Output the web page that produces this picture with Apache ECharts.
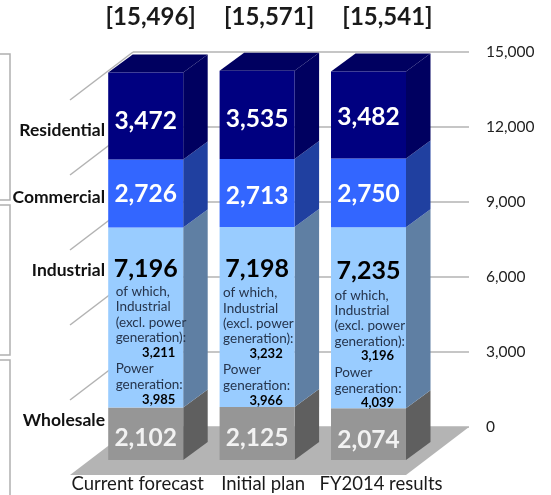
<!DOCTYPE html>
<html>
<head>
<meta charset="utf-8">
<style>html,body{margin:0;padding:0;background:#fff}#chart{width:551px;height:495px}</style>
<script src="https://cdn.jsdelivr.net/npm/echarts@6/dist/echarts.min.js"></script>
</head>
<body>
<div id="chart"></div>
<script>
// Electricity sales by customer segment
const categories = ['Current forecast', 'Initial plan', 'FY2014 results'];
const totals = ['[15,496]', '[15,571]', '[15,541]'];
const wholesale = [2102, 2125, 2074];
const industrial = [7196, 7198, 7235];
const commercial = [2726, 2713, 2750];
const residential = [3472, 3535, 3482];
const industrialExclPower = [3211, 3232, 3196];
const powerGeneration = [3985, 3966, 4039];
const wallTicks = [3000, 6000, 9000, 12000, 15000];

const fmt = v => v.toLocaleString('en-US');
const FONT = 'Lato, "Open Sans", sans-serif';

// Pseudo-3D depth of the columns and of the floor, in pixels
const BAR_DX = 24.5, BAR_DY = -18, FLOOR_DX = 63, FLOOR_DY = -48;
const BAR_WIDTH = 75;

const segments = [
  { name: 'Wholesale', values: wholesale, front: '#969696', side: '#5f5f5f', labelColor: '#f2f2f2', nudge: [4, 5, 6] },
  { name: 'Industrial', values: industrial, front: '#99ccff', side: '#5f7fa3', labelColor: '#000', nudge: [0, 0, 0] },
  { name: 'Commercial', values: commercial, front: '#3366ff', side: '#2040a0', labelColor: '#fff', nudge: [1, 3, 1] },
  { name: 'Residential', values: residential, front: '#000080', side: '#000060', labelColor: '#fff', nudge: [5, 4, 2] }
];

// Cumulative spans of each column: [category, base, top, colour index]
const spans = [];
categories.forEach((c, i) => {
  let base = 0;
  segments.forEach((s, k) => {
    spans.push([i, base, base + s.values[i], k]);
    base += s.values[i];
  });
});

// Text placement relative to each column's centre
const topLabelDx = [5, 12, 19];
const axisNameDx = [-8, 6, 12.5];
const noteLeftDx = [-30, -34, -34];
const noteTopDy = [64, 66, 68];
const bigLabelDy = [24, 25, 26];
const sideNames = [
  { text: 'Residential', y: 130 },
  { text: 'Commercial', y: 197 },
  { text: 'Industrial', y: 270 },
  { text: 'Wholesale', y: 420 }
];

const textEl = (x, y, text, size, color, weight, align) => ({
  type: 'text', z2: 50,
  style: { x, y, text, fill: color, font: `${weight || 400} ${size}px ${FONT}`, align: align || 'left', verticalAlign: 'middle' }
});

function renderDepth(params, api) {
  const p1 = api.coord([api.value(0), api.value(2)]);
  const p0 = api.coord([api.value(0), api.value(1)]);
  const k = api.value(3);
  const right = p0[0] + BAR_WIDTH / 2, left = p0[0] - BAR_WIDTH / 2;
  const children = [{
    type: 'polygon',
    shape: { points: [[right, p0[1]], [right, p1[1]], [right + BAR_DX, p1[1] + BAR_DY], [right + BAR_DX, p0[1] + BAR_DY]] },
    style: { fill: segments[k].side }
  }];
  if (k === segments.length - 1) {
    children.push({
      type: 'polygon',
      shape: { points: [[left, p1[1]], [right, p1[1]], [right + BAR_DX, p1[1] + BAR_DY], [left + BAR_DX, p1[1] + BAR_DY]] },
      style: { fill: '#000060' }
    });
  }
  return { type: 'group', children };
}

function renderAnnotations(params, api) {
  const i = api.value(0);
  const base = api.coord([i, 0]);
  const cx = base[0];
  const indTop = api.coord([i, wholesale[i] + industrial[i]])[1];
  const children = [
    textEl(cx + topLabelDx[i], 17, totals[i], 24, '#1a1a1a', 700, 'center'),
    textEl(cx + axisNameDx[i], 484, categories[i], 18.5, '#1a1a1a', 400, 'center')
  ];
  const y0 = indTop + noteTopDy[i];
  const x = cx + noteLeftDx[i];
  const noteColor = '#26354d';
  ['of which,', 'Industrial', '(excl. power', 'generation):'].forEach((t, n) => {
    children.push(textEl(x, y0 + n * 15.4, t, 13.5, noteColor));
  });
  children.push(textEl(x + 43, y0 + 61, fmt(industrialExclPower[i]), 13, '#000', 700, 'center'));
  children.push(textEl(x, y0 + 77, 'Power', 13.5, noteColor));
  children.push(textEl(x, y0 + 93, 'generation:', 13.5, noteColor));
  children.push(textEl(x + 43, y0 + 108, fmt(powerGeneration[i]), 13, '#000', 700, 'center'));
  return { type: 'group', children };
}

function renderLeadIn(params, api) {
  const p = api.coord([0, api.value(0)]);
  return {
    type: 'polyline',
    shape: { points: [[p[0], p[1]], [p[0] - FLOOR_DX, p[1] - FLOOR_DY]] },
    style: { stroke: '#b3b3b3', lineWidth: 1.5, fill: 'none' }
  };
}

function renderFloor(params, api) {
  const a = api.coord([0, 0]), b = api.coord([1, 0]);
  return {
    type: 'polygon',
    shape: { points: [a, b, [b[0] - FLOOR_DX, b[1] - FLOOR_DY], [a[0] - FLOOR_DX, a[1] - FLOOR_DY]] },
    style: { fill: '#b4b4b4' }
  };
}

const barSeries = segments.map((s, k) => ({
  name: s.name,
  type: 'bar',
  stack: 'sales',
  xAxisIndex: 1, yAxisIndex: 1,
  barWidth: BAR_WIDTH,
  z: 5,
  data: s.values.map((v, i) => ({
    value: v,
    label: s.name === 'Industrial'
      ? { position: 'insideTop', offset: [0, bigLabelDy[i]] }
      : { offset: [0, s.nudge[i]] }
  })),
  label: {
    show: true,
    position: 'inside',
    formatter: p => fmt(p.value),
    color: s.labelColor,
    fontFamily: FONT,
    fontSize: s.name === 'Industrial' ? 25 : 24.5,
    fontWeight: 700
  },
  itemStyle: { color: s.front }
}));

const chart = echarts.init(document.getElementById('chart'), null, { renderer: 'canvas' });
chart.setOption({
  animation: false,
  backgroundColor: '#fff',
  // Back wall with the scale, front plane carrying the columns
  grid: [
    { left: 133, top: 52, width: 336, height: 375 },
    { left: 90, top: 60, width: 334.2, height: 400 }
  ],
  xAxis: [
    { type: 'value', gridIndex: 0, min: 0, max: 1, show: false },
    { type: 'category', gridIndex: 1, data: categories, show: false }
  ],
  yAxis: [
    {
      type: 'value', gridIndex: 0, min: 0, max: 15000, interval: 3000, position: 'right',
      axisLine: { show: false }, axisTick: { show: false },
      splitLine: { show: true, lineStyle: { color: '#b3b3b3', width: 1.5 } },
      axisLabel: {
        show: true, margin: 17, align: 'left', color: '#222', fontFamily: FONT, fontSize: 15.5,
        formatter: v => fmt(v)
      }
    },
    { type: 'value', gridIndex: 1, min: 0, max: 16000, show: false }
  ],
  graphic: [
    // Brackets grouping the customer segments on the left
    ...[[54, 200], [205, 355]].map(([a, b]) => ({
      type: 'polyline', silent: true,
      shape: { points: [[0, a], [10, a], [10, b], [0, b]] },
      style: { stroke: '#b0b0b0', lineWidth: 1.5, fill: 'none' }
    })),
    {
      type: 'polyline', silent: true,
      shape: { points: [[0, 360], [10, 360], [10, 495]] },
      style: { stroke: '#b0b0b0', lineWidth: 1.5, fill: 'none' }
    },
    ...sideNames.map(n => ({
      type: 'text', silent: true, z: 60,
      style: { x: 105, y: n.y, text: n.text, fill: '#111', font: `700 17.5px ${FONT}`, align: 'right', verticalAlign: 'middle' }
    }))
  ],
  series: [
    { type: 'custom', name: 'floor', xAxisIndex: 0, yAxisIndex: 0, z: 1, silent: true, clip: false, renderItem: renderFloor, data: [[0]] },
    { type: 'custom', name: 'lead-in', xAxisIndex: 0, yAxisIndex: 0, z: 2, silent: true, clip: false, renderItem: renderLeadIn, data: wallTicks.map(v => [v]), encode: { y: 0 } },
    { type: 'custom', name: 'depth', xAxisIndex: 1, yAxisIndex: 1, z: 4, silent: true, clip: false, renderItem: renderDepth, data: spans, encode: { x: 0, y: [1, 2] } },
    ...barSeries,
    { type: 'custom', name: 'notes', xAxisIndex: 1, yAxisIndex: 1, z: 8, silent: true, clip: false, renderItem: renderAnnotations, data: categories.map((c, i) => [i]), encode: { x: 0 } }
  ]
});
</script>
</body>
</html>
